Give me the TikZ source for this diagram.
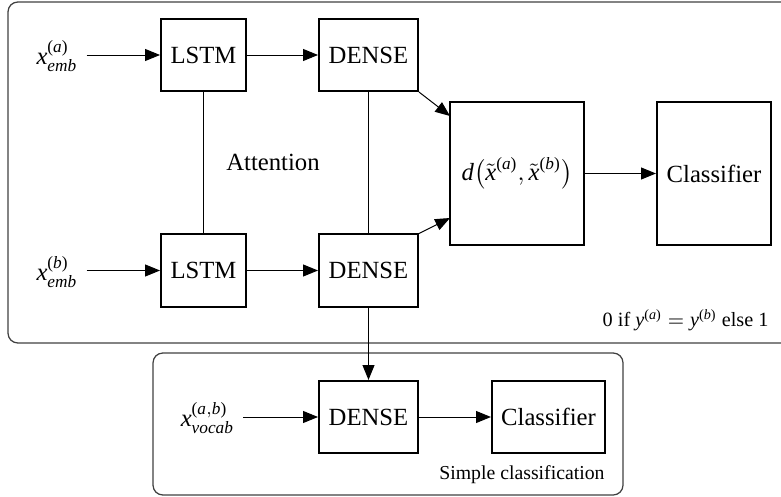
\documentclass[tikz,border=0pt]{standalone}
\usepackage{amsmath}
\usepackage{fontspec}
\setmainfont{Liberation Serif}
\usetikzlibrary{arrows.meta}
\newcommand{\mi}[1]{\textit{#1}}
\newcommand{\pl}[1]{\textup{(}#1\textup{)}}
\tikzset{
  box/.style={draw, line width=0.8pt, inner sep=0pt, align=center, font=\fontsize{10}{12}\selectfont},
  conn/.style={line width=0.4pt},
  arr/.style={line width=0.4pt, -{Triangle[length=6pt,width=4.8pt]}},
  frame/.style={draw=black!75, line width=0.5pt, rounded corners=4pt},
  lbl/.style={inner sep=3.5pt, font=\fontsize{10}{12}\selectfont}
}
\begin{document}
\begin{tikzpicture}[x=0.405pt, y=-0.405pt]
\useasboundingbox (0,0) rectangle (781,497);
\clip (0,0) rectangle (781,497);
% frames
\draw[frame] (8,2) rectangle (800,343);
\draw[frame] (153,353) rectangle (623,495);
% boxes
\node[box, minimum width=34.4pt, minimum height=29.2pt] (la) at (203.5,55) {LSTM};
\node[box, minimum width=34.4pt, minimum height=29.2pt] (lb) at (203.5,270.5) {LSTM};
\node[box, minimum width=40.1pt, minimum height=29.2pt] (da) at (368.5,55) {DENSE};
\node[box, minimum width=40.1pt, minimum height=29.2pt] (db) at (368.5,270.5) {DENSE};
\node[box, minimum width=54.3pt, minimum height=57.9pt] (dist) at (517,173.5) {$\mi{d}\bigl(\tilde{\mi{x}}^{\pl{\mi{a}}},\tilde{\mi{x}}^{\pl{\mi{b}}}\bigr)$};
\node[box, minimum width=46.2pt, minimum height=57.9pt] (cls) at (714,173.5) {Classifier};
\node[box, minimum width=40.1pt, minimum height=29.2pt] (dc) at (368.5,417) {DENSE};
\node[box, minimum width=45.8pt, minimum height=29.2pt] (cc) at (548.5,417) {Classifier};
% labels
\node[lbl] (xa) at (57,56) {$\mi{x}^{\pl{\mi{a}}}_{\mi{emb}}$};
\node[lbl] (xb) at (57,272) {$\mi{x}^{\pl{\mi{b}}}_{\mi{emb}}$};
\node[lbl] (xv) at (207.5,418) {$\mi{x}^{\pl{\mi{a},\mi{b}}}_{\mi{vocab}}$};
\node[lbl] (att) at (273,162) {Attention};
\node[lbl, anchor=east, inner sep=0pt, font=\fontsize{8.2}{10}\selectfont] (eq) at (769,320) {0 if $\mi{y}^{\pl{\mi{a}}}=\mi{y}^{\pl{\mi{b}}}$ else 1};
\node[lbl, anchor=east, inner sep=0pt, font=\fontsize{8}{10}\selectfont] (sc) at (605,475) {Simple classification};
% connectors
\draw[arr] (xa.east |- la) -- (la);
\draw[arr] (xb.east |- lb) -- (lb);
\draw[arr] (la) -- (da);
\draw[arr] (lb) -- (db);
\draw[conn] (la) -- (lb);
\draw[conn] (da) -- (db);
\coordinate (pa) at (450,116);
\coordinate (pb) at (450,218);
\draw[arr] (da.south east) -- (pa);
\draw[arr] (db.north east) -- (pb);
\draw[arr] (dist) -- (cls);
\draw[arr] (db) -- (dc);
\draw[arr] (xv.east |- dc) -- (dc);
\draw[arr] (dc) -- (cc);
\end{tikzpicture}
\end{document}
